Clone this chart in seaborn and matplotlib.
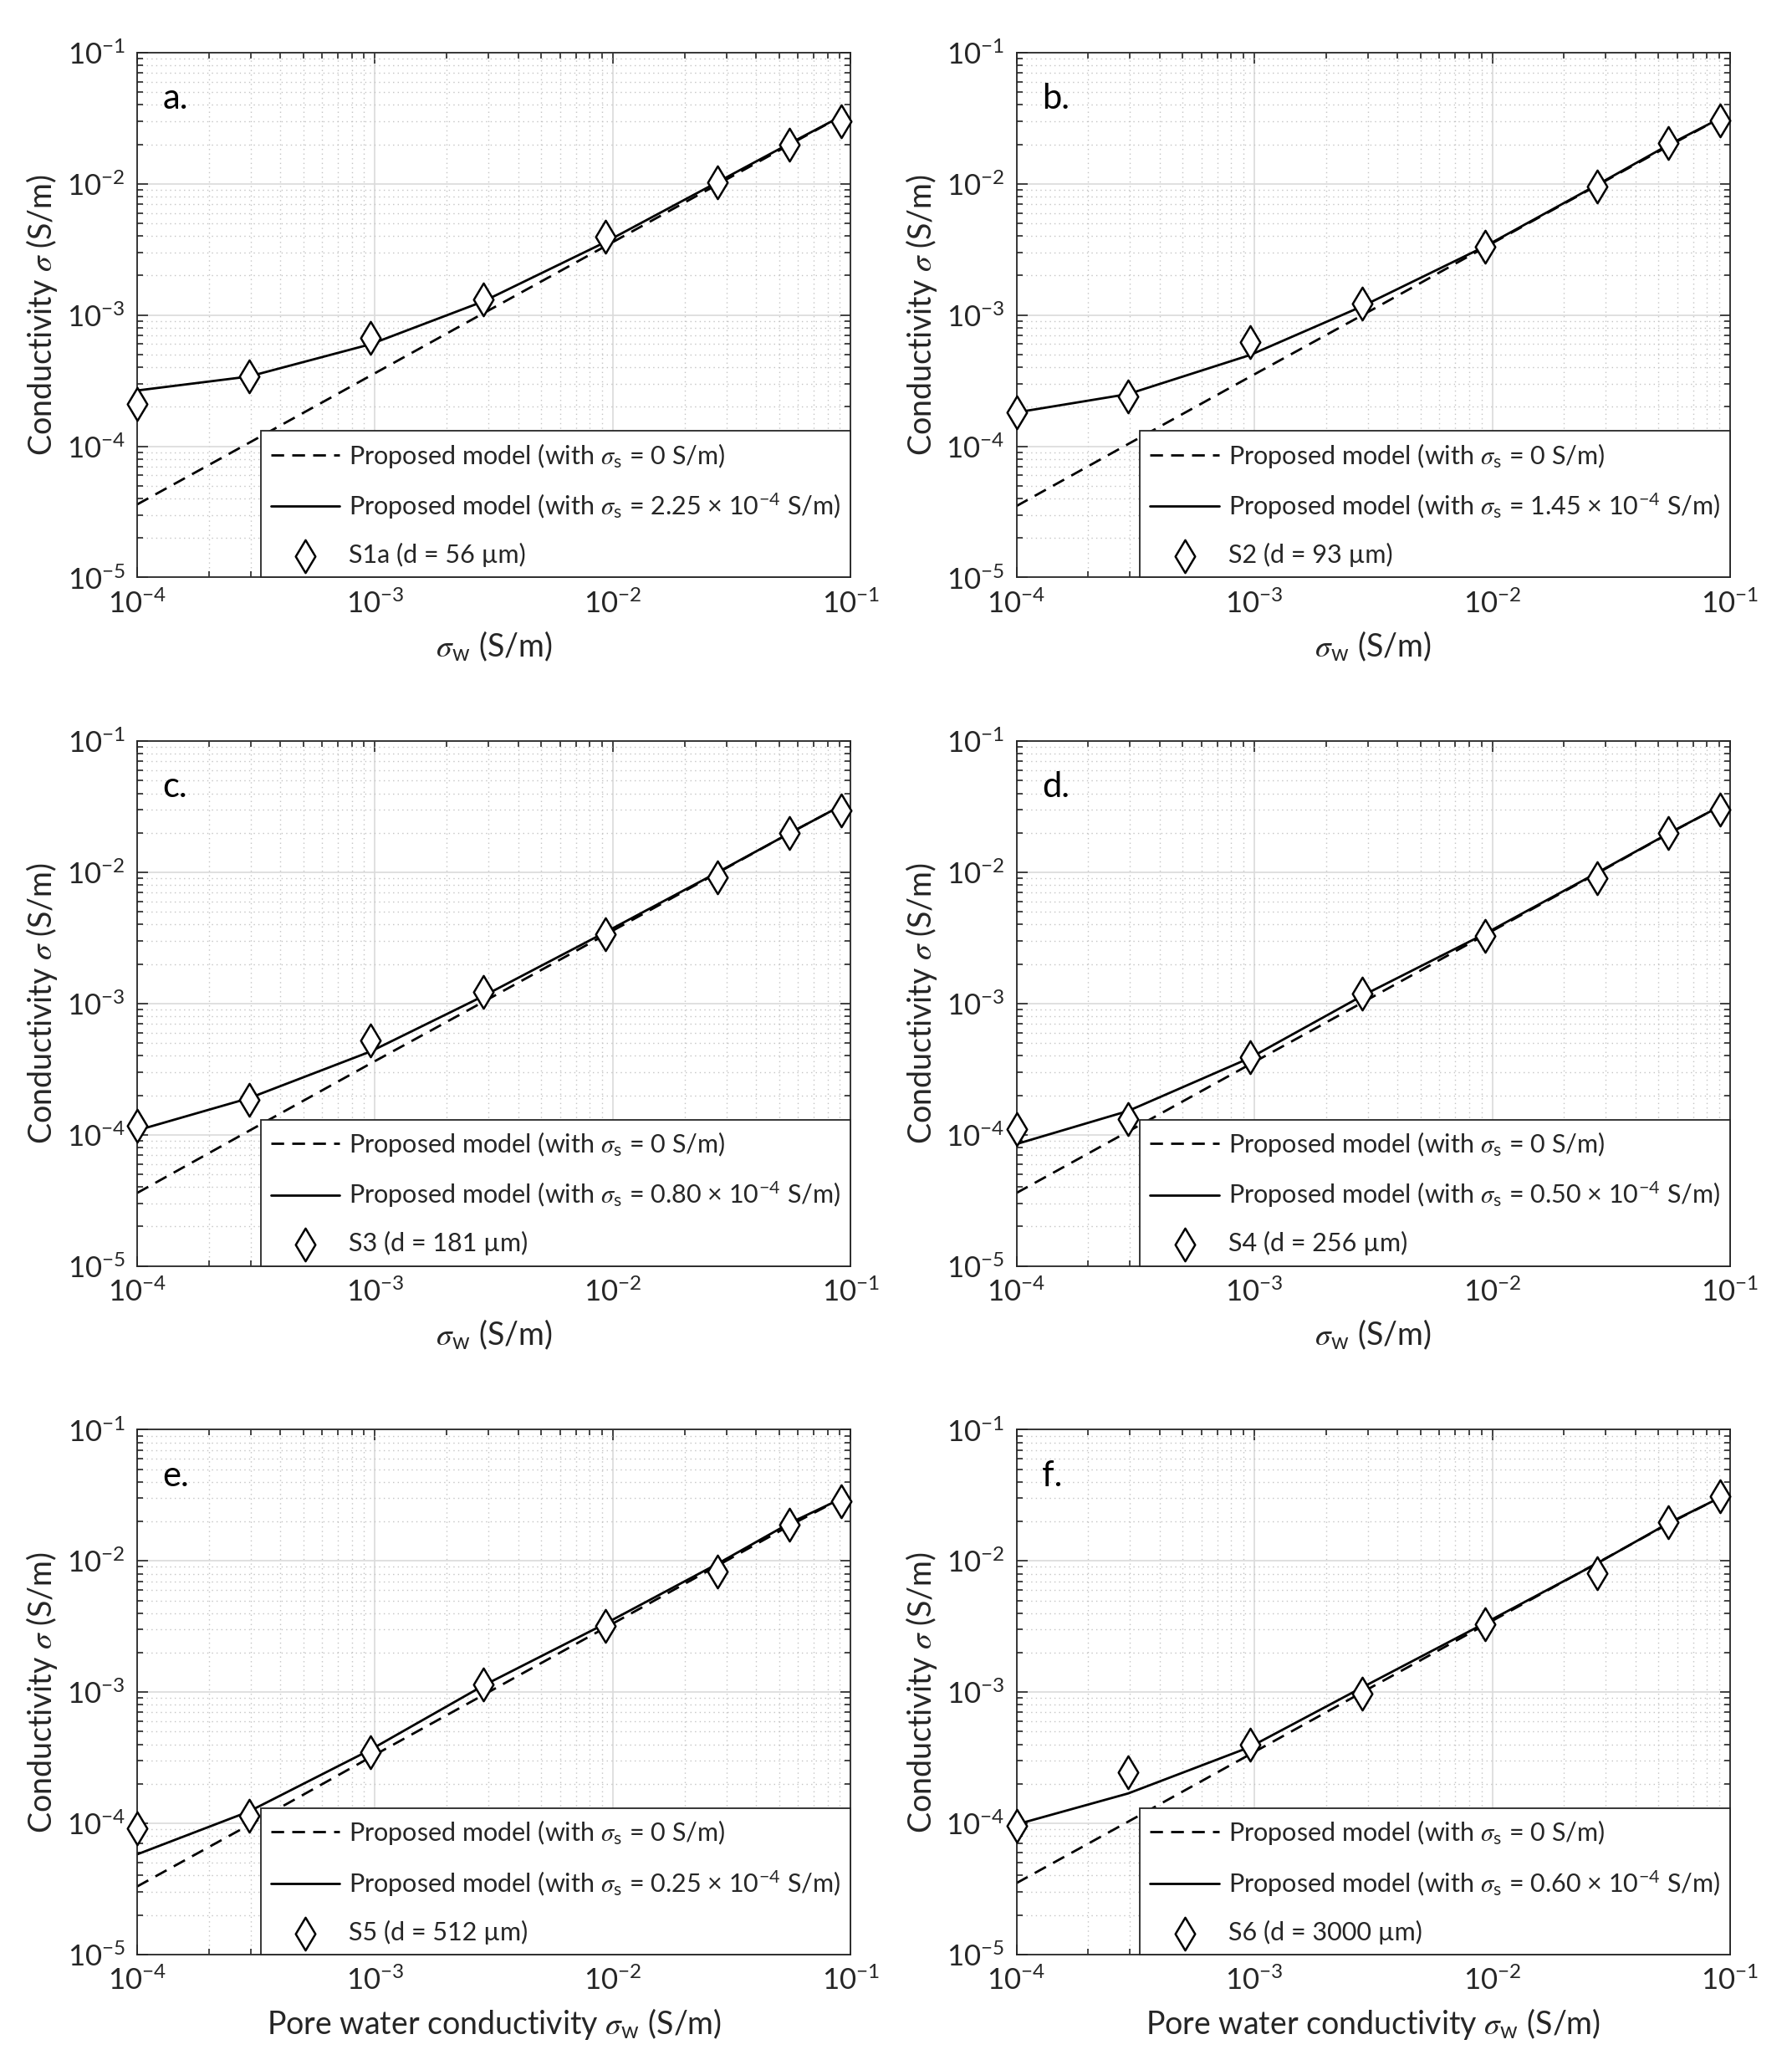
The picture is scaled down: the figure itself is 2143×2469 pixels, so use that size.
import numpy as np
import pandas as pd
import seaborn as sns
import matplotlib.pyplot as plt
from matplotlib.ticker import FuncFormatter, LogLocator, NullFormatter

# pore water conductivity (S/m), same for all samples
sigma_w = [1e-4, 2.95e-4, 9.6e-4, 2.85e-3, 9.3e-3, 2.75e-2, 5.5e-2, 9.1e-2]

# measured bulk conductivity (S/m)
meas_a = [2.1e-4, 3.4e-4, 6.7e-4, 1.31e-3, 3.98e-3, 1.03e-2, 2.0e-2, 3.0e-2]
meas_b = [1.81e-4, 2.41e-4, 6.26e-4, 1.23e-3, 3.33e-3, 9.5e-3, 2.04e-2, 3.05e-2]
meas_c = [1.17e-4, 1.84e-4, 5.25e-4, 1.23e-3, 3.38e-3, 9.1e-3, 1.99e-2, 2.98e-2]
meas_d = [1.11e-4, 1.32e-4, 3.93e-4, 1.19e-3, 3.27e-3, 9.0e-3, 1.99e-2, 3.0e-2]
meas_e = [9.2e-5, 1.14e-4, 3.5e-4, 1.14e-3, 3.2e-3, 8.34e-3, 1.9e-2, 2.86e-2]
meas_f = [9.6e-5, 2.44e-4, 3.97e-4, 9.7e-4, 3.27e-3, 8.1e-3, 1.96e-2, 3.13e-2]

# model with surface conductivity
fit_a = [2.66e-4, 3.4e-4, 6.0e-4, 1.27e-3, 3.6e-3, 1.03e-2, 2.02e-2, 3.27e-2]
fit_b = [1.81e-4, 2.5e-4, 4.96e-4, 1.17e-3, 3.33e-3, 9.8e-3, 1.98e-2, 3.17e-2]
fit_c = [1.08e-4, 1.9e-4, 4.32e-4, 1.14e-3, 3.5e-3, 1.0e-2, 1.98e-2, 3.22e-2]
fit_d = [8.5e-5, 1.52e-4, 3.86e-4, 1.15e-3, 3.4e-3, 9.9e-3, 1.98e-2, 3.2e-2]
fit_e = [5.8e-5, 1.23e-4, 3.65e-4, 1.12e-3, 3.33e-3, 9.5e-3, 1.93e-2, 2.98e-2]
fit_f = [9.8e-5, 1.69e-4, 3.82e-4, 1.09e-3, 3.35e-3, 9.55e-3, 1.94e-2, 3.05e-2]

# model without surface conductivity
base_a = [3.6e-5, 1.06e-4, 3.46e-4, 1.03e-3, 3.35e-3, 9.9e-3, 1.98e-2, 3.27e-2]
base_b = [3.5e-5, 1.04e-4, 3.39e-4, 1.0e-3, 3.28e-3, 9.7e-3, 1.94e-2, 3.17e-2]
base_c = [3.6e-5, 1.07e-4, 3.5e-4, 1.03e-3, 3.35e-3, 9.9e-3, 1.98e-2, 3.22e-2]
base_d = [3.6e-5, 1.06e-4, 3.45e-4, 1.02e-3, 3.33e-3, 9.8e-3, 1.97e-2, 3.2e-2]
base_e = [3.3e-5, 9.7e-5, 3.2e-4, 9.5e-4, 3.1e-3, 9.2e-3, 1.85e-2, 2.98e-2]
base_f = [3.5e-5, 1.03e-4, 3.36e-4, 1.0e-3, 3.25e-3, 9.6e-3, 1.92e-2, 3.05e-2]

panel_letters = ['a.', 'b.', 'c.', 'd.', 'e.', 'f.']
sample_labels = ['S1a (d = 56 µm)', 'S2 (d = 93 µm)', 'S3 (d = 181 µm)',
                 'S4 (d = 256 µm)', 'S5 (d = 512 µm)', 'S6 (d = 3000 µm)']
sigma_s_text = ['2.25', '1.45', '0.80', '0.50', '0.25', '0.60']

measured = [meas_a, meas_b, meas_c, meas_d, meas_e, meas_f]
fitted = [fit_a, fit_b, fit_c, fit_d, fit_e, fit_f]
baseline = [base_a, base_b, base_c, base_d, base_e, base_f]

sns.set_style('ticks')
plt.rcParams['font.family'] = ['Lato', 'DejaVu Sans']
plt.rcParams['mathtext.fontset'] = 'custom'
plt.rcParams['mathtext.rm'] = 'Lato'
plt.rcParams['mathtext.it'] = 'STIXGeneral:italic'
plt.rcParams['mathtext.bf'] = 'Lato:bold'

dark = '#262626'
sig = r'$\mathit{\sigma}$'

fig, axes = plt.subplots(3, 2, figsize=(21.43, 24.69), dpi=100)
fig.subplots_adjust(left=0.0765, right=0.9655, bottom=0.0535, top=0.9745,
                    wspace=0.232, hspace=0.312)

for i, ax in enumerate(axes.flat):
    df = pd.DataFrame({'sw': sigma_w, 'meas': measured[i],
                       'fit': fitted[i], 'base': baseline[i]})
    sns.lineplot(data=df, x='sw', y='base', ax=ax, color='k', lw=2.0,
                 linestyle=(0, (5.5, 3.5)),
                 label=r'Proposed model (with ' + sig + r'$_{\mathregular{s}}$ = 0 S/m)')
    sns.lineplot(data=df, x='sw', y='fit', ax=ax, color='k', lw=2.0,
                 label=r'Proposed model (with ' + sig + r'$_{\mathregular{s}}$ = '
                 + sigma_s_text[i] + r' $\times$ 10$^{\mathregular{-4}}$ S/m)')
    sns.scatterplot(data=df, x='sw', y='meas', ax=ax, marker='d', s=400,
                    facecolor='white', edgecolor='k', linewidth=1.8,
                    label=sample_labels[i], zorder=5, clip_on=False)

    ax.set_xscale('log')
    ax.set_yscale('log')
    ax.set_xlim(1e-4, 1e-1)
    ax.set_ylim(1e-5, 1e-1)

    fmt = FuncFormatter(lambda v, p: r'10$^{\mathregular{%d}}$' % round(np.log10(v)))
    for axis in (ax.xaxis, ax.yaxis):
        axis.set_major_locator(LogLocator(base=10, numticks=10))
        axis.set_minor_locator(LogLocator(base=10, subs=np.arange(2, 10), numticks=10))
        axis.set_major_formatter(fmt)
        axis.set_minor_formatter(NullFormatter())

    ax.grid(which='major', color='#dadada', lw=1.2, ls='-')
    ax.grid(which='minor', color='#c4c4c4', lw=1.0, ls=(0, (1, 3)))
    ax.set_axisbelow(True)
    ax.tick_params(which='both', direction='in', top=True, right=True,
                   colors=dark, labelsize=25, width=1.2)
    ax.tick_params(which='major', length=9, pad=10)
    ax.tick_params(which='minor', length=5)
    for sp in ax.spines.values():
        sp.set_color(dark)
        sp.set_linewidth(1.3)

    ax.set_ylabel('Conductivity ' + sig + ' (S/m)', fontsize=27, color=dark, labelpad=6)
    if i < 4:
        ax.set_xlabel(sig + r'$_{\mathregular{w}}$ (S/m)', fontsize=27, color=dark, labelpad=10)
    else:
        ax.set_xlabel('Pore water conductivity ' + sig + r'$_{\mathregular{w}}$ (S/m)',
                      fontsize=27, color=dark, labelpad=10)

    ax.text(0.036, 0.912, panel_letters[i], transform=ax.transAxes,
            fontsize=30, color='k', va='center', ha='left')

    leg = ax.legend(loc='lower right', bbox_to_anchor=(1.0, 0.0), borderaxespad=0,
                    fontsize=22, frameon=True, fancybox=False, framealpha=1,
                    edgecolor=dark, handlelength=2.7, handletextpad=0.35,
                    labelspacing=0.85, borderpad=0.4)
    leg.get_frame().set_linewidth(1.3)
    leg.set_zorder(10)

fig.savefig('out.png', dpi=100, facecolor='white')
